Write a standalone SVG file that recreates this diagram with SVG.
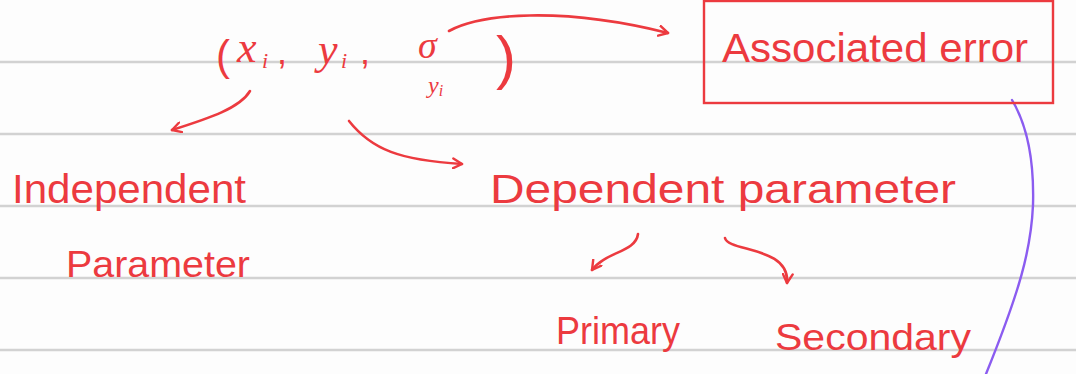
<svg xmlns="http://www.w3.org/2000/svg" width="1076" height="374" viewBox="0 0 1076 374">
  <style>
    .rule { stroke: #d2d2d2; stroke-width: 2.5; }
    .ink { fill: #ec3a3f; font-family: "Liberation Sans", "DejaVu Sans", sans-serif; }
    .math { fill: #ec3a3f; font-family: "Liberation Serif", "DejaVu Serif", serif; font-style: italic; }
    .pen { fill: none; stroke: #ec3a3f; stroke-width: 2.6; stroke-linecap: round; stroke-linejoin: round; }
    .box { fill: none; stroke: #ec3a3f; stroke-width: 2.4; }
    .violet { fill: none; stroke: #8b5cf0; stroke-width: 2.4; stroke-linecap: round; }
  </style>
  <defs>
    <marker id="head" viewBox="0 0 12 12" refX="10" refY="6" markerWidth="12" markerHeight="12" markerUnits="userSpaceOnUse" orient="auto">
      <path d="M1,1 L10,6 L1,11" fill="none" stroke="#ec3a3f" stroke-width="2.4" stroke-linecap="round" stroke-linejoin="round"/>
    </marker>
  </defs>
  <rect width="1076" height="374" fill="#fdfdfd"/>
  <g id="paper">
    <line class="rule" x1="0" y1="62" x2="1076" y2="62"/>
    <line class="rule" x1="0" y1="134" x2="1076" y2="134"/>
    <line class="rule" x1="0" y1="206" x2="1076" y2="206"/>
    <line class="rule" x1="0" y1="278" x2="1076" y2="278"/>
    <line class="rule" x1="0" y1="350" x2="1076" y2="350"/>
  </g>
  <g id="connectors">
    <path class="pen" d="M449,31 C480,14 560,6 668,33" marker-end="url(#head)"/>
    <path class="pen" d="M250,91 C240,108 210,118 172,130" marker-end="url(#head)"/>
    <path class="pen" d="M349,121 C372,150 400,160 462,164" marker-end="url(#head)"/>
    <path class="pen" d="M638,234 C636,252 605,252 592,270" marker-end="url(#head)"/>
    <path class="pen" d="M725,238 C728,252 790,246 787,283" marker-end="url(#head)"/>
    <path class="violet" d="M1012,100 C1030,130 1034,170 1033,205 C1031,250 1020,290 986,374"/>
  </g>
  <g id="tuple">
    <text class="ink" x="216" y="70" font-size="42">(</text>
    <text class="math" x="237" y="62" font-size="44">x</text>
    <text class="math" x="262" y="68" font-size="22">i</text>
    <text class="ink" x="277" y="64" font-size="36">,</text>
    <text class="math" x="318" y="64" font-size="44">y</text>
    <text class="math" x="341" y="68" font-size="22">i</text>
    <text class="ink" x="360" y="64" font-size="36">,</text>
    <text class="math" x="418" y="58" font-size="38">σ</text>
    <text class="math" x="428" y="93" font-size="24">y<tspan font-size="16" dy="3">i</tspan></text>
    <text class="ink" x="496" y="78" font-size="60">)</text>
  </g>
  <g id="associated-error">
    <rect class="box" x="704" y="1" width="349" height="102"/>
    <text class="ink" x="722" y="62" font-size="40" textLength="306" lengthAdjust="spacingAndGlyphs">Associated error</text>
  </g>
  <g id="independent">
    <text class="ink" x="12" y="203" font-size="40" textLength="234" lengthAdjust="spacingAndGlyphs">Independent</text>
    <text class="ink" x="66" y="277" font-size="36" textLength="184" lengthAdjust="spacingAndGlyphs">Parameter</text>
  </g>
  <g id="dependent">
    <text class="ink" x="490" y="203" font-size="40" textLength="466" lengthAdjust="spacingAndGlyphs">Dependent  parameter</text>
  </g>
  <g id="primary">
    <text class="ink" x="556" y="344" font-size="38" textLength="124" lengthAdjust="spacingAndGlyphs">Primary</text>
  </g>
  <g id="secondary">
    <text class="ink" x="775" y="350" font-size="36" textLength="196" lengthAdjust="spacingAndGlyphs">Secondary</text>
  </g>
</svg>
